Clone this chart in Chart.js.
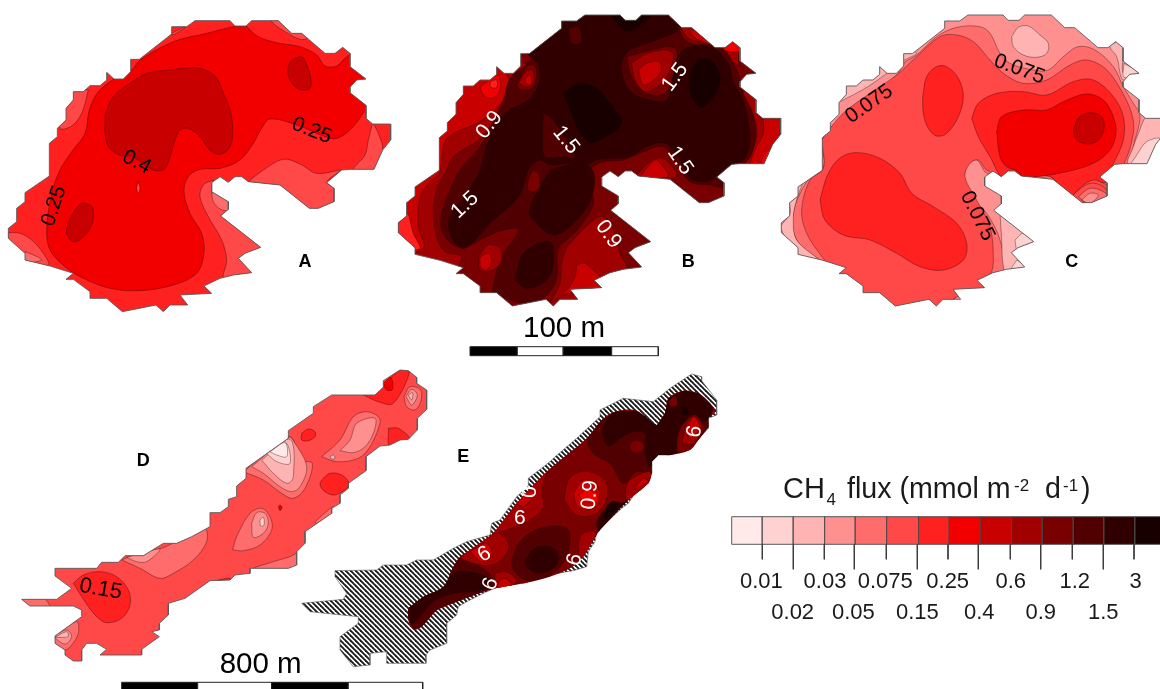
<!DOCTYPE html>
<html>
<head>
<meta charset="utf-8">
<style>
html, body { margin: 0; padding: 0; background: #ffffff; }
canvas { display: block; }
</style>
<script src="https://cdn.jsdelivr.net/npm/chart.js@4/dist/chart.umd.min.js"></script>
</head>
<body>
<canvas id="mapa" width="1160" height="689"></canvas>
<script>
// flux classes, lowest to highest
const rampColors = ['#FFE9E9', '#FFD2D2', '#FFB4B4', '#FF9090', '#FF6C6C', '#FF4848', '#FF2020', '#F20000', '#C80000', '#A00000', '#780000', '#500000', '#300000', '#180000'];
const tickRow1 = ['0.01', '0.03', '0.075', '0.25', '0.6', '1.2', '3'];
const tickRow2 = ['0.02', '0.05', '0.15', '0.4', '0.9', '1.5'];

// map coordinates are in thirds of a pixel, lists are x,y,x,y...
const lakeOutline = [585,62,690,62,705,78,738,78,755,62,835,62,875,100,905,100,975,160,1005,160,1028,142,1050,160,1050,200,1098,237,1070,240,1050,262,1050,278,1098,316,1098,355,1118,372,1172,372,1172,420,1148,450,1122,508,1050,508,1025,510,980,548,1002,565,1002,605,955,625,928,625,840,555,745,545,725,530,705,530,685,547,660,530,635,548,635,575,685,605,685,628,662,648,782,742,735,760,715,775,755,818,700,825,660,835,612,858,635,880,540,885,563,915,510,915,490,935,468,915,367,935,320,895,270,895,270,875,220,838,198,838,220,820,150,798,75,780,75,760,25,715,25,685,50,665,50,625,75,605,75,578,148,528,148,430,172,410,172,385,198,360,198,325,220,300,220,275,250,275,270,257,300,257,320,240,320,217,342,237,370,237,392,215,392,178,418,178,515,102,515,80,560,80];

const contoursA = [
  [7, [738,78,775,110,830,128,900,140,950,165,975,198,1010,198,1035,175,1055,165,1130,240,1130,310,1098,330,1060,380,1020,412,990,415,890,375,810,357,785,385,760,430,720,480,660,505,600,508,565,530,552,575,570,640,605,700,612,760,590,820,520,855,420,872,330,865,250,835,195,800,150,750,140,690,155,580,180,510,215,455,255,400,268,330,295,275,345,235,395,210,420,180,520,125,620,100,700,80]],
  [5, [640,540,610,555,600,590,625,650,665,720,680,780,672,838,740,850,800,780,760,700,680,620,640,590]],
  [5, [745,545,790,510,850,478,900,492,950,520,1025,510,1010,520,980,548,1010,565,1010,610,955,640,920,640,840,565]],
  [5, [1118,368,1135,400,1148,450,1122,512,1060,510,1095,465,1105,420]],
  [5, [265,270,215,270,190,330,180,385,215,378,245,340]],
  [5, [20,698,60,700,95,720,130,760,145,795,70,785,15,715]],
  [4, [75,755,100,765,125,780,75,785]],
  [5, [505,105,560,78,525,102]],
  [5, [810,60,840,60,875,98,905,98,920,115,900,118,855,95,825,75]],
  [4, [635,578,655,578,690,605,690,630,662,628,640,605]],
  [8, [315,345,340,290,390,250,440,220,510,210,580,203,620,212,650,235,670,280,690,330,698,390,690,440,660,463,630,450,600,410,565,385,540,390,525,420,510,470,495,505,470,512,440,500,400,470,360,465,325,440,315,400]],
  [8, [875,180,905,170,920,195,933,240,930,265,905,270,880,255,865,225,865,200]],
  [8, [245,608,275,618,280,650,270,685,245,715,220,725,200,700,205,670,225,630]],
  [5, [415,545,420,565,415,580,410,565]]
];

const contoursB = [
  [8, [320,180,358,240,355,275,310,335,250,375,200,395,165,425,148,520,120,545,95,580,85,620,85,680,100,745,0,760,0,600,140,200]],
  [6, [55,640,70,700,90,745,60,745,20,700,20,670]],
  [7, [270,260,305,235,325,225,330,270,305,295,280,285]],
  [6, [300,245,320,240,320,262,303,262]],
  [10, [400,190,440,190,445,240,420,285,360,310,315,360,265,420,190,470,170,510,140,570,130,640,140,710,165,755,215,770,195,825,270,900,400,960,800,960,1300,520,1300,40,400,0]],
  [9, [530,740,610,660,640,650,670,690,690,760,710,810,640,860,550,925,480,925,510,850,515,790]],
  [8, [560,795,585,790,640,850,600,880,540,880,520,885,475,915,530,870,555,830]],
  [9, [1055,275,1085,330,1100,390,1095,430,1070,495,1200,495,1200,270]],
  [8, [1118,345,1120,400,1095,450,1085,495,1200,495,1200,345]],
  [7, [1110,495,1125,460,1150,445,1150,470,1120,495]],
  [9, [735,530,790,478,825,478,860,530,780,535]],
  [8, [750,530,795,480,815,495,835,530]],
  [9, [870,80,905,80,975,140,1040,145,1050,200,1100,225,1000,170,960,135,895,115]],
  [8, [895,82,925,100,975,140,950,130,910,110]],
  [7, [1028,118,1055,145,1048,155,1000,150,1015,135]],
  [11, [340,300,360,235,395,205,430,170,520,30,900,30,870,90,900,130,990,140,1040,210,1060,280,1090,350,1095,420,1075,480,1030,510,1000,560,960,555,900,545,860,490,820,440,760,455,700,480,640,485,600,510,600,560,610,610,570,680,530,720,505,745,495,850,430,910,310,880,310,860,330,780,385,690,340,690,280,715,230,740,190,735,155,690,155,640,180,570,210,510,270,440,300,385]],
  [12, [445,190,410,150,515,30,830,30,865,85,800,120,720,150,695,190,710,260,760,295,830,300,850,220,880,150,960,140,1015,190,1030,250,1055,290,1075,370,1080,430,1060,480,1010,500,980,530,945,545,900,535,870,480,825,430,770,440,720,470,680,475,620,480,590,495,540,490,480,495,450,480,420,500,385,590,300,670,250,725,215,745,180,700,180,650,230,580,270,510,295,420,345,340,420,295,450,240]],
  [12, [480,510,570,490,610,515,605,590,560,660,490,705,430,660,418,630,445,570]],
  [12, [375,840,400,760,480,725,490,790,470,840,410,865]],
  [11, [460,340,480,350,530,420,555,470,520,470,465,470,458,420]],
  [10, [430,510,445,520,450,560,435,575,415,570,415,540]],
  [11, [535,85,565,80,575,125,545,130]],
  [13, [520,280,570,250,620,265,660,310,695,360,685,385,640,415,600,428,565,390,545,340]],
  [13, [900,220,925,180,960,180,985,210,990,250,970,290,935,322,910,300,898,260]],
  [13, [660,40,700,90,730,90,770,60,790,40]],
  [10, [710,170,830,140,860,150,850,220,825,280,770,280,725,230]],
  [9, [725,190,770,160,830,150,850,165,830,230,800,260,765,275,735,240]],
  [8, [745,210,770,190,808,185,812,215,790,240,760,255]],
  [10, [380,255,410,200,430,195,440,220,425,265,390,268]],
  [9, [385,250,408,215,428,210,430,245,415,262]],
  [8, [405,235,420,225,425,250,410,255]],
  [9, [265,770,295,735,330,745,335,780,310,810,270,810]],
  [8, [270,770,295,760,305,785,290,810,272,800]]
];

const contoursC = [
  [4, [405,185,440,165,500,110,560,82,630,80,660,100,690,160,720,190,790,210,835,210,880,170,925,140,975,150,1030,200,1060,260,1090,310,1110,345,1095,420,1070,495,1000,510,1015,545,1015,600,960,615,925,610,850,540,700,530,650,520,620,480,590,500,585,545,610,600,650,640,690,720,700,825,630,835,500,930,350,930,220,815,150,780,80,720,70,640,110,545,160,500,155,420,180,385,230,345,300,290,380,225]],
  [5, [155,420,180,385,230,330,380,225,440,170,510,110,560,105,610,125,660,180,700,220,760,250,830,240,900,195,950,180,1005,205,1050,265,1085,340,1090,400,1060,495,1040,495,990,540,1015,560,1015,600,960,615,900,620,830,520,700,530,650,510,625,480,600,490,585,530,620,600,660,680,670,780,660,825,630,840,640,865,575,885,490,925,370,925,280,885,205,825,160,775,110,700,95,630,120,540,160,505]],
  [6, [458,290,470,230,500,200,530,200,565,235,580,290,565,350,530,400,500,408,475,385,460,340]],
  [6, [150,600,175,520,215,470,265,458,330,475,390,520,425,580,490,620,560,670,590,730,580,780,520,810,450,800,380,760,300,720,220,705,165,660]],
  [6, [605,355,625,310,680,280,760,275,830,285,910,245,970,240,1030,290,1060,350,1060,420,1030,490,1005,530,1010,545,1000,548,970,540,935,560,910,590,930,610,880,570,840,530,750,530,720,512,695,530,660,470,625,410]],
  [7, [680,395,695,350,760,330,830,330,880,305,950,282,1000,300,1030,350,1038,400,1020,450,970,490,890,515,800,530,760,530,740,512,710,500,690,470]],
  [8, [910,390,925,355,960,338,995,350,1002,385,985,420,955,432,920,420]],
  [5, [905,590,920,575,960,550,1000,560,1015,590,960,615,930,610]],
  [4, [925,590,960,565,1000,575,1015,595,955,612]],
  [3, [935,600,960,580,985,585,960,610]],
  [2, [725,110,745,82,775,78,810,105,835,130,830,160,800,172,760,165,730,140]],
  [2, [1040,125,1060,145,1060,220,1108,218,1060,240,1040,170,1020,140]],
  [1, [1062,190,1105,218,1062,232]],
  [2, [1105,400,1130,350,1175,350,1175,495,1075,495,1090,440]],
  [1, [1100,465,1130,425,1175,418,1175,495,1085,495]],
  [2, [205,308,300,256,400,182,440,160,400,150,320,195,225,245]],
  [2, [30,680,60,640,60,600,100,540,80,600,70,650,80,720,150,785,80,775]],
  [2, [690,640,720,660,800,725,770,805,715,825,700,800,695,720]],
  [1, [735,720,760,700,795,725,750,765,740,750]],
  [1, [740,780,770,802,725,808]]
];

const outlineD = [1200,30,1225,32,1250,52,1250,70,1280,90,1280,148,1252,175,1252,210,1225,238,1200,240,1170,255,1140,258,1098,290,1098,332,1045,370,1045,385,1020,405,1020,430,995,445,995,460,915,515,915,550,890,575,890,615,865,625,750,625,750,640,705,645,690,660,630,662,555,715,505,730,505,765,478,790,478,810,455,815,478,830,425,868,425,885,300,885,320,868,290,850,260,850,245,870,245,903,220,903,195,885,195,870,165,850,165,828,245,770,245,750,220,738,90,738,65,718,170,718,215,685,165,648,165,625,290,625,305,607,355,607,375,587,430,587,490,550,530,550,575,530,630,500,630,458,660,458,685,440,685,418,710,410,710,378,738,355,738,325,865,235,865,212,940,160,940,140,995,105,1125,105,1150,82,1150,62];

const contoursD = [
  [6, [220,670,250,645,300,635,350,650,385,690,390,735,365,775,320,788,290,770,255,725]],
  [6, [1090,105,1130,95,1200,28,1230,30,1180,130,1135,125]],
  [7, [1150,70,1172,52,1178,88,1160,90]],
  [6, [905,220,925,207,945,215,945,230,925,242,905,240]],
  [6, [1165,205,1195,205,1230,240,1170,260]],
  [6, [965,360,990,340,1025,345,1048,370,1040,385,1005,405,975,395,960,375]],
  [7, [835,440,840,435,846,442,840,452]],
  [6, [640,664,680,655,695,658,660,668]],
  [4, [698,570,710,530,750,460,785,445,810,470,815,510,780,555,730,572]],
  [3, [755,490,770,458,795,460,805,490,790,520,760,532]],
  [1, [780,480,790,472,792,495,782,498]],
  [4, [965,290,1020,240,1060,170,1100,155,1135,170,1140,190,1110,260,1075,295,1010,305]],
  [3, [1020,272,1050,240,1070,190,1125,175,1120,220,1095,260,1060,278]],
  [2, [990,290,1000,285,1005,295,995,297]],
  [4, [1212,110,1230,80,1262,90,1262,125,1245,150,1220,140]],
  [3, [1218,110,1235,88,1252,105,1235,135]],
  [2, [1225,105,1238,98,1235,120]],
  [4, [365,600,440,570,470,570,530,545,575,525,615,505,620,545,580,600,520,640,480,655,420,625]],
  [3, [380,592,430,578,480,568,440,605,410,605]],
  [4, [750,645,755,628,820,605,870,590,895,580,895,625,865,630,800,628]],
  [4, [945,485,1000,440,1000,460,950,490]],
  [4, [160,830,230,785,235,820,215,855,195,870,160,855]],
  [3, [160,830,200,810,215,830,195,852]],
  [2, [165,832,200,815,205,830]],
  [4, [60,715,130,715,148,742,85,742]],
  [4, [730,335,865,230,880,240,905,300,937,310,915,385,880,415,845,400,790,360]],
  [3, [755,320,865,232,885,250,920,320,900,380,875,395,840,380,790,340]],
  [2, [785,300,870,238,880,350,862,370,820,340]],
  [1, [800,280,855,245,870,310,830,305]],
  [0, [810,275,855,248,860,290,830,285]]
];

const outlineE = [1205,42,1235,50,1235,62,1280,120,1280,165,1255,175,1255,205,1220,240,1170,270,1140,285,1105,285,1085,305,1085,340,1075,370,1045,385,1015,430,995,445,920,515,915,545,895,575,890,620,850,632,740,650,710,668,620,682,580,700,530,725,505,740,500,765,470,790,470,850,420,870,408,885,408,910,290,910,290,875,240,880,240,915,190,920,150,870,150,830,205,790,205,770,155,765,60,755,35,730,160,718,170,700,135,650,135,632,260,630,280,615,350,615,380,600,430,600,490,565,530,545,600,525,605,490,630,480,680,410,715,378,715,355,780,305,790,295,860,235,930,170,930,150,1000,115,1090,125,1140,85];
const innerE = [355,745,400,710,460,680,490,620,510,590,540,570,610,520,680,430,770,335,895,230,935,180,975,155,1040,152,1100,195,1125,160,1135,115,1180,92,1225,100,1260,130,1275,155,1255,175,1255,200,1225,240,1200,270,1140,285,1105,285,1085,305,1085,340,1075,370,1010,425,930,510,905,550,880,590,840,625,780,650,710,668,640,680,580,695,500,725,440,750,395,800,370,808,355,780];

const contoursE = [
  [9, [395,805,440,745,490,725,520,730,440,760]],
  [11, [350,745,400,710,460,680,490,620,510,595,570,620,605,650,610,680,580,700,500,725,440,750,395,800,370,810,350,780]],
  [12, [350,745,400,712,460,685,490,640,540,635,600,660,580,690,490,700,430,725,385,775,365,790]],
  [9, [510,595,540,565,610,515,650,540,655,570,620,610,570,615]],
  [8, [540,575,590,550,605,580,575,605]],
  [9, [615,640,650,635,680,665,640,685,615,670]],
  [8, [625,665,645,655,665,675,625,685]],
  [11, [665,600,690,545,750,505,830,505,838,560,810,620,770,650,710,660,670,630]],
  [12, [705,600,735,565,780,560,805,585,795,620,745,640,710,620]],
  [9, [680,430,770,330,755,390,760,440,720,480,650,510,605,520]],
  [8, [680,430,710,390,735,400,700,440]],
  [11, [895,230,935,175,975,150,1040,148,1100,195,1135,115,1285,95,1285,200,1140,290,1105,290,1085,340,1075,340,1040,335,1000,370,960,310,915,285,895,255]],
  [12, [935,220,950,180,990,150,1040,148,1100,195,1125,160,1135,112,1180,88,1225,96,1265,130,1250,180,1200,190,1165,275,1120,290,1105,288,1080,320,1065,270,1065,220,1030,215,990,235,955,258]],
  [10, [1020,250,1040,240,1060,250,1060,270,1035,280,1020,265]],
  [9, [822,420,835,360,870,335,915,340,950,370,945,430,910,465,860,465]],
  [8, [850,400,880,360,920,375,925,430,890,450,860,435]],
  [7, [865,405,890,390,920,400,920,425,885,425]],
  [9, [1005,390,1020,360,1080,335,1080,375,1015,425]],
  [8, [1030,390,1060,355,1075,365]],
  [12, [935,460,965,425,990,430,1012,425,930,515,920,490]],
  [13, [940,470,965,430,990,430,950,478]],
  [9, [865,590,870,530,900,512,920,520,895,570,880,595]],
  [10, [1160,275,1165,220,1190,180,1215,165,1240,200,1225,240,1200,275]],
  [9, [1175,250,1190,190,1215,170,1235,200,1210,250]],
  [8, [1190,215,1210,170,1228,200,1200,235]],
  [13, [1175,155,1185,140,1195,160,1180,165]],
  [10, [1135,125,1155,108,1162,135,1145,140]],
  [9, [1262,160,1280,145,1280,165]]
];

// colour bar and scale bars
const barEdges = [731.7, 762.3, 793.3, 824.7, 855.3, 886.7, 918.7, 949.3, 980.3, 1011.7, 1042.3, 1073.3, 1104, 1135, 1166];
const barTicks = [762.3, 793.3, 824.3, 854.3, 886.3, 917.3, 948, 978.3, 1010.3, 1040.7, 1072.3, 1103.3, 1134];
const scaleEdges100 = [470, 517.3, 563.3, 611.7, 658.3];
const scaleEdges800 = [121.7, 197.7, 271.7, 348.3, 422.7];

function pontos(lista, ox, oy) {
    const saida = [];
    for (let i = 0; i < lista.length; i += 2) {
        saida.push({ x: ox + lista[i] / 3, y: oy + lista[i + 1] / 3 });
    }
    saida.push(saida[0]);
    return saida;
}

function retangulo(x0, y0, x1, y1) {
    return [{ x: x0, y: y0 }, { x: x1, y: y0 }, { x: x1, y: y1 }, { x: x0, y: y1 }, { x: x0, y: y0 }];
}

function criarHachura() {
    const c = document.createElement('canvas');
    c.width = 5;
    c.height = 5;
    const g = c.getContext('2d');
    g.fillStyle = '#ffffff';
    g.fillRect(0, 0, 5, 5);
    g.strokeStyle = '#1c1c1c';
    g.lineWidth = 1.9;
    for (let k = -5; k <= 5; k += 5) {
        g.beginPath();
        g.moveTo(k - 1, -1);
        g.lineTo(k + 6, 6);
        g.stroke();
    }
    return document.getElementById('mapa').getContext('2d').createPattern(c, 'repeat');
}

const datasets = [];

function area(data, cor, opts) {
    datasets.push(Object.assign({
        data: data,
        showLine: true,
        pointRadius: 0,
        fill: false,
        tension: 0,
        backgroundColor: cor,
        borderColor: 'rgba(30,0,0,0.5)',
        borderWidth: 0.7
    }, opts));
}

function painel(contorno, base, camadas, ox, oy) {
    area(contorno, rampColors[base], { borderWidth: 0 });
    camadas.forEach(c => {
        area(pontos(c[1], ox, oy), rampColors[c[0]], { tension: 0.35, clipTo: contorno });
    });
    area(contorno, null, { borderColor: '#5a5a5a', borderWidth: 0.9 });
}

painel(pontos(lakeOutline, 0, 0), 6, contoursA, 0, 0);
painel(pontos(lakeOutline, 390, -5.67), 9, contoursB, 390, 0);
painel(pontos(lakeOutline, 773, -5.67), 3, contoursC, 770, 0);
painel(pontos(outlineD, 0, 360), 5, contoursD, 0, 360);

const contornoE = pontos(outlineE, 290, 360);
const mioloE = pontos(innerE, 290, 360);
area(contornoE, criarHachura(), { borderColor: '#5a5a5a', borderWidth: 0.6 });
area(mioloE, rampColors[10], { tension: 0.35, borderWidth: 0 });
contoursE.forEach(c => {
    area(pontos(c[1], 290, 360), rampColors[c[0]], { tension: 0.35, clipTo: mioloE });
});

// colour bar
rampColors.forEach((cor, i) => {
    area(retangulo(barEdges[i], 516.7, barEdges[i + 1], 544.3), cor, { borderColor: '#4a4a4a', borderWidth: 0.9 });
});
barTicks.forEach((x, i) => {
    area([{ x: x, y: 544.3 }, { x: x, y: i % 2 === 0 ? 559.3 : 569.3 }], null, { borderColor: '#3c3c3c', borderWidth: 1 });
});

// scale bars
[[scaleEdges100, 346.7, 355.7], [scaleEdges800, 682.3, 692]].forEach(b => {
    for (let i = 0; i < 4; i++) {
        area(retangulo(b[0][i], b[1], b[0][i + 1], b[2]), i % 2 === 0 ? '#000000' : '#ffffff', { borderColor: '#222222', borderWidth: 1 });
    }
});

// chart.js paints the first dataset last, the layers above are listed bottom first
datasets.reverse();

// text: [text, x, y, rotation, font, colour]
const rotulo = '21px "Liberation Sans"';
const tickFonte = '22px "Liberation Sans"';
const textos = [
    ['0.25', 311.7, 130.7, 22, rotulo, '#000000'],
    ['0.4', 136.7, 162.3, 28, rotulo, '#000000'],
    ['0.25', 54, 206, -72, rotulo, '#000000'],
    ['0.9', 489.3, 125, -52, rotulo, '#ffffff'],
    ['1.5', 675, 77.3, -54, rotulo, '#ffffff'],
    ['1.5', 566, 140, 51, rotulo, '#ffffff'],
    ['1.5', 680, 160.7, 55, rotulo, '#ffffff'],
    ['1.5', 465, 205, -43, rotulo, '#ffffff'],
    ['0.9', 608.3, 234.3, 55, rotulo, '#ffffff'],
    ['0.075', 869.3, 104, -35, rotulo, '#000000'],
    ['0.075', 1019.3, 69.3, 20, rotulo, '#000000'],
    ['0.075', 977.3, 216, 63, rotulo, '#000000'],
    ['0.15', 100.7, 589.3, 10, '22px "Liberation Sans"', '#000000'],
    ['0.9', 590, 495, -85, rotulo, '#ffffff'],
    ['9', 520, 516, 180, rotulo, '#ffffff'],
    ['9', 483, 552, 150, rotulo, '#ffffff'],
    ['9', 488, 583, 110, rotulo, '#ffffff'],
    ['9', 572, 559, 105, rotulo, '#ffffff'],
    ['9', 692, 431, 100, rotulo, '#ffffff'],
    ['0', 528, 492, 90, rotulo, '#ffffff'],
    ['A', 305, 266.7, 0, 'bold 18px "Liberation Sans"', '#000000'],
    ['B', 688.3, 266.7, 0, 'bold 18px "Liberation Sans"', '#000000'],
    ['C', 1071.7, 266.7, 0, 'bold 18px "Liberation Sans"', '#000000'],
    ['D', 143.3, 466, 0, 'bold 18px "Liberation Sans"', '#000000'],
    ['E', 463.3, 461.7, 0, 'bold 18px "Liberation Sans"', '#000000'],
    ['100 m', 564, 336.7, 0, '29.5px "Liberation Sans"', '#000000'],
    ['800 m', 260.7, 672.7, 0, '29.5px "Liberation Sans"', '#000000']
];

const xRow1 = [761.3, 825, 885.3, 947.7, 1010.7, 1074.7, 1135.7];
const xRow2 = [792.7, 853.3, 917.3, 979.3, 1040.7, 1103.3];
tickRow1.forEach((t, i) => textos.push([t, xRow1[i], 588.3, 0, tickFonte, '#1a1a1a']));
tickRow2.forEach((t, i) => textos.push([t, xRow2[i], 619, 0, tickFonte, '#1a1a1a']));

const titulo = [
    ['CH', 783, 498, '29px "Liberation Sans"'],
    ['4', 826.5, 505, '17px "Liberation Sans"'],
    ['flux (mmol m', 847, 498, '28.6px "Liberation Sans"'],
    ['-2', 1014, 491, '17px "Liberation Sans"'],
    ['d', 1045, 498, '28.6px "Liberation Sans"'],
    ['-1', 1063, 491, '17px "Liberation Sans"'],
    [')', 1081, 498, '28.6px "Liberation Sans"']
];

function tracar(ctx, chart, lista) {
    const sx = chart.scales.x;
    const sy = chart.scales.y;
    ctx.beginPath();
    lista.forEach((p, i) => {
        const px = sx.getPixelForValue(p.x);
        const py = sy.getPixelForValue(p.y);
        if (i === 0) ctx.moveTo(px, py); else ctx.lineTo(px, py);
    });
    ctx.closePath();
}

// fills each area and keeps the contours inside their lake
const pluginAreas = {
    id: 'areas',
    beforeDatasetDraw(chart, args) {
        const ds = chart.data.datasets[args.index];
        const ctx = chart.ctx;
        ctx.save();
        if (ds.clipTo) {
            tracar(ctx, chart, ds.clipTo);
            ctx.clip();
        }
        if (ds.backgroundColor) {
            const linha = args.meta.dataset;
            linha.updateControlPoints(chart.chartArea, 'x');
            ctx.beginPath();
            linha.path(ctx);
            ctx.closePath();
            ctx.fillStyle = ds.backgroundColor;
            ctx.fill();
        }
    },
    afterDatasetDraw(chart) {
        chart.ctx.restore();
    }
};

const pluginTextos = {
    id: 'textos',
    afterDatasetsDraw(chart) {
        const ctx = chart.ctx;
        const sx = chart.scales.x;
        const sy = chart.scales.y;
        textos.forEach(t => {
            ctx.save();
            ctx.translate(sx.getPixelForValue(t[1]), sy.getPixelForValue(t[2]));
            ctx.rotate(t[3] * Math.PI / 180);
            ctx.font = t[4];
            ctx.fillStyle = t[5];
            ctx.textAlign = 'center';
            // rotated labels are centred on their anchor, plain ones sit on the baseline
            ctx.textBaseline = t[3] === 0 ? 'alphabetic' : 'middle';
            ctx.fillText(t[0], 0, 0);
            ctx.restore();
        });
        titulo.forEach(t => {
            ctx.save();
            ctx.font = t[3];
            ctx.fillStyle = '#1a1a1a';
            ctx.textAlign = 'left';
            ctx.textBaseline = 'alphabetic';
            ctx.fillText(t[0], sx.getPixelForValue(t[1]), sy.getPixelForValue(t[2]));
            ctx.restore();
        });
    }
};

new Chart(document.getElementById('mapa'), {
    type: 'scatter',
    data: { datasets: datasets },
    plugins: [pluginAreas, pluginTextos],
    options: {
        responsive: false,
        animation: false,
        layout: { padding: 0 },
        plugins: { legend: { display: false }, tooltip: { enabled: false } },
        scales: {
            x: { type: 'linear', display: false, min: 0, max: 1160 },
            y: { type: 'linear', display: false, min: 0, max: 689, reverse: true }
        }
    }
});
</script>
</body>
</html>
